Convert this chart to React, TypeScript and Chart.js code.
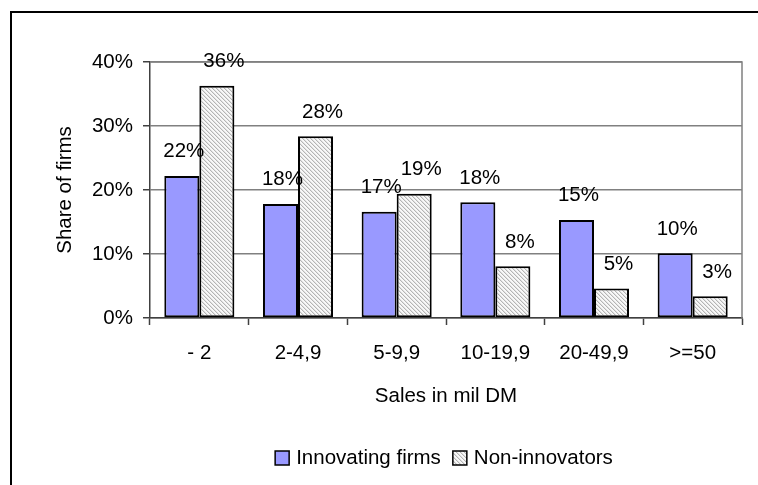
import React, { useEffect, useRef } from "react";
import { Chart, registerables } from "chart.js";

Chart.register(...registerables);

const categories = ["- 2", "2-4,9", "5-9,9", "10-19,9", "20-49,9", ">=50"];
const innovatingFirms = [22.2, 17.8, 16.6, 18.1, 15.3, 10.1];
const nonInnovators = [36.3, 28.4, 19.4, 8.1, 4.6, 3.4];
const yTickValues = [0, 10, 20, 30, 40];
const seriesNames = ["Innovating firms", "Non-innovators"];
const xTitle = "Sales in mil DM";
const yTitle = "Share of firms";

const FONT = "'Liberation Sans', Arial, Helvetica, sans-serif";
const FS = 20.5;

export default function App() {
  const canvasRef = useRef<HTMLCanvasElement | null>(null);

  useEffect(() => {
    const canvas = canvasRef.current!;
    const ctx = canvas.getContext("2d")!;

    const tile = document.createElement("canvas");
    tile.width = 4;
    tile.height = 4;
    const t = tile.getContext("2d")!;
    t.fillStyle = "#f8f8f8";
    t.fillRect(0, 0, 4, 4);
    for (let i = 0; i < 4; i++) {
      t.fillStyle = "#b4b4b4";
      t.fillRect(i, i, 1, 1);
      t.fillStyle = "#e2e2e2";
      t.fillRect((i + 1) % 4, i, 1, 1);
    }
    const hatch = ctx.createPattern(tile, "repeat")!;

    const frame = {
      id: "frame",
      beforeDraw(chart: any) {
        const c = chart.ctx;
        c.save();
        c.fillStyle = "#ffffff";
        c.fillRect(0, 0, chart.width, chart.height);
        c.strokeStyle = "#000000";
        c.lineWidth = 2;
        c.beginPath();
        c.moveTo(11, chart.height + 2);
        c.lineTo(11, 12);
        c.lineTo(chart.width + 2, 12);
        c.stroke();
        c.restore();
      },
      beforeDatasetsDraw(chart: any) {
        const a = chart.chartArea;
        const c = chart.ctx;
        c.save();
        c.strokeStyle = "#808080";
        c.lineWidth = 1.5;
        c.beginPath();
        c.moveTo(a.left, a.top);
        c.lineTo(a.right, a.top);
        c.lineTo(a.right, a.bottom);
        c.stroke();
        c.restore();
      },
    };

    const valueLabels = {
      id: "valueLabels",
      afterDatasetsDraw(chart: any) {
        const c = chart.ctx;
        c.save();
        c.font = `${FS}px ${FONT}`;
        c.fillStyle = "#000000";
        c.textAlign = "center";
        c.textBaseline = "bottom";
        chart.data.datasets.forEach((ds: any, di: number) => {
          const meta = chart.getDatasetMeta(di);
          meta.data.forEach((el: any, i: number) => {
            const v = ds.data[i];
            c.fillText(`${Math.round(v)}%`, el.x + 2 + di * 5, el.y - 14);
          });
        });
        c.restore();
      },
    };

    const legend = {
      id: "customLegend",
      afterDraw(chart: any) {
        const c = chart.ctx;
        c.save();
        c.font = `${FS}px ${FONT}`;
        c.textBaseline = "middle";
        c.textAlign = "left";
        const box = 14;
        const gap = 7;
        const itemGap = 12;
        const widths = chart.data.datasets.map((d: any) => c.measureText(d.label).width);
        const total = widths.reduce((s: number, w: number) => s + box + gap + w, 0) + itemGap * (widths.length - 1);
        let x = 444 - total / 2;
        const cy = 458;
        chart.data.datasets.forEach((d: any, i: number) => {
          c.fillStyle = d.backgroundColor;
          c.fillRect(x, cy - box / 2, box, box);
          c.strokeStyle = "#000000";
          c.lineWidth = 1.5;
          c.strokeRect(x, cy - box / 2, box, box);
          c.fillStyle = "#000000";
          c.fillText(d.label, x + box + gap, cy);
          x += box + gap + widths[i] + itemGap;
        });
        c.restore();
      },
    };

    const chart = new Chart(canvas, {
      type: "bar",
      data: {
        labels: categories,
        datasets: [
          {
            label: seriesNames[0],
            data: innovatingFirms,
            backgroundColor: "#9999ff",
            borderColor: "#000000",
            borderWidth: 2,
            borderSkipped: false,
            categoryPercentage: 0.71,
            barPercentage: 1,
          },
          {
            label: seriesNames[1],
            data: nonInnovators,
            backgroundColor: hatch as any,
            borderColor: "#000000",
            borderWidth: 2,
            borderSkipped: false,
            categoryPercentage: 0.71,
            barPercentage: 1,
          },
        ],
      },
      options: {
        responsive: false,
        animation: false,
        events: [],
        layout: { padding: { top: 62, right: 16, left: 0, bottom: 0 } },
        plugins: {
          legend: { display: false },
          tooltip: { enabled: false },
        },
        scales: {
          x: {
            offset: true,
            grid: {
              offset: true,
              drawOnChartArea: false,
              drawTicks: true,
              tickLength: 7,
              tickColor: "#404040",
              tickWidth: 1.5,
            },
            border: { display: true, color: "#404040", width: 1.5 },
            ticks: {
              color: "#000000",
              font: { family: FONT, size: FS },
              padding: 16,
              maxRotation: 0,
              autoSkip: false,
            },
            title: {
              display: true,
              text: xTitle,
              color: "#000000",
              font: { family: FONT, size: FS },
              padding: { top: 0, bottom: 76 },
            },
            afterFit(scale: any) {
              scale.height = 167;
            },
          },
          y: {
            min: 0,
            max: 40,
            afterBuildTicks(scale: any) {
              scale.ticks = yTickValues.map((v) => ({ value: v }));
            },
            grid: {
              color: "#808080",
              lineWidth: 1.5,
              tickLength: 7,
              tickColor: "#404040",
              tickWidth: 1.5,
            },
            border: { display: true, color: "#404040", width: 1.5 },
            ticks: {
              color: "#000000",
              font: { family: FONT, size: FS },
              padding: 10,
              callback: (v: any) => `${v}%`,
            },
            title: {
              display: true,
              text: yTitle,
              color: "#000000",
              font: { family: FONT, size: FS },
              padding: { top: 53, bottom: 0 },
            },
            afterFit(scale: any) {
              scale.width = 150;
            },
          },
        },
      },
      plugins: [frame, valueLabels, legend],
    });

    return () => chart.destroy();
  }, []);

  return (
    <div style={{ position: "absolute", left: 0, top: 0, width: 758, height: 485, background: "#fff" }}>
      <canvas ref={canvasRef} width={758} height={485} style={{ display: "block" }} />
    </div>
  );
}
